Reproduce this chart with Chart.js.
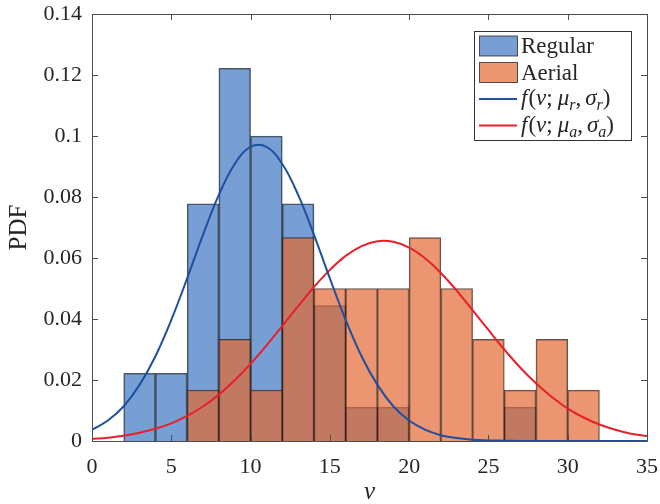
<!DOCTYPE html>
<html>
<head>
<meta charset="utf-8">
<script src="https://cdn.jsdelivr.net/npm/chart.js@4/dist/chart.umd.min.js"></script>
<style>
  html, body { margin: 0; padding: 0; background: #fff; }
</style>
</head>
<body>
<canvas id="graficoPdf" width="660" height="504"></canvas>
<script>
// datos del histograma (centros de clase, ancho 2)
var centrosClase = [3, 5, 7, 9, 11, 13, 15, 17, 19, 21, 23, 25, 27, 29, 31];
var pdfRegular = [0.0222, 0.0222, 0.0778, 0.1222, 0.1, 0.0778, 0.0444, 0.0111, 0.0111, 0, 0, 0, 0.0111, 0, 0];
var pdfAerial = [0, 0, 0.0167, 0.0333, 0.0167, 0.0667, 0.05, 0.05, 0.05, 0.0667, 0.05, 0.0333, 0.0167, 0.0333, 0.0167];

// curvas
var curvaX = [0, 1, 2, 3, 4, 5, 6, 7, 8, 9, 10, 11, 12, 13, 14, 15, 16, 17, 18, 19, 20, 21, 22, 23, 24, 25, 26, 27, 28, 29, 30, 31, 32, 33, 34, 35];
var curvaRegular = [0.0037, 0.0067, 0.0114, 0.0184, 0.0278, 0.0397, 0.0533, 0.0676, 0.0807, 0.0908, 0.0964, 0.0964, 0.0908, 0.0807, 0.0676, 0.0533, 0.0397, 0.0278, 0.0184, 0.0114, 0.0067, 0.0037, 0.0019, 0.001, 0.0004, 0.0002, 0.0001, 0, 0, 0, 0, 0, 0, 0, 0, 0];
var curvaAerial = [0.0007, 0.0011, 0.0017, 0.0027, 0.004, 0.0058, 0.0082, 0.0113, 0.0152, 0.0199, 0.0253, 0.0313, 0.0377, 0.0442, 0.0505, 0.0561, 0.0607, 0.0639, 0.0655, 0.0653, 0.0634, 0.0599, 0.0551, 0.0493, 0.0429, 0.0364, 0.03, 0.0241, 0.0189, 0.0144, 0.0106, 0.0077, 0.0054, 0.0037, 0.0024, 0.0016];

var ticksX = [0, 5, 10, 15, 20, 25, 30, 35];
var ticksY = [0, 0.02, 0.04, 0.06, 0.08, 0.1, 0.12, 0.14];

var fuente = '"Liberation Serif", "DejaVu Serif", serif';
var colorEje = '#262626';

// colores
var azulBarra = 'rgba(28, 95, 182, 0.6)';
var naranjaBarra = 'rgba(226, 105, 51, 0.7)';
var bordeBarra = 'rgba(30, 30, 30, 0.75)';
var azulLinea = '#1f4fa0';
var rojoLinea = '#e8202a';

function puntosBarra(valores) {
  return centrosClase.map(function (c, i) {
    return { x: c, y: valores[i] > 0 ? valores[i] : null };
  });
}
function puntosCurva(valores) {
  return curvaX.map(function (x, i) {
    return { x: x, y: valores[i] };
  });
}

// texto con subíndices para la leyenda
function textoRico(ctx, x, y, partes) {
  partes.forEach(function (p) {
    var size = p.sub ? 16 : 23;
    ctx.font = (p.it ? 'italic ' : '') + size + 'px ' + fuente;
    ctx.fillText(p.t, x, y + (p.sub ? 5 : 0));
    x += ctx.measureText(p.t).width + (p.extra || 0);
  });
}
function etiquetaCurva(s) {
  return [
    { t: 'f', it: true, extra: 1 }, { t: '(' }, { t: 'v', it: true }, { t: ';', extra: 5 },
    { t: 'μ', it: true }, { t: s, it: true, sub: true }, { t: ',', extra: 4 },
    { t: 'σ', it: true }, { t: s, it: true, sub: true }, { t: ')' }
  ];
}

// quitar el relleno que Chart.js añade por las etiquetas
function sinRelleno(s) {
  s.paddingLeft = 0; s.paddingRight = 0; s.paddingTop = 0; s.paddingBottom = 0;
}

// caja, marcas interiores y leyenda
var pluginEjes = {
  id: 'pluginEjes',
  afterDraw: function (chart) {
    var ctx = chart.ctx;
    var a = chart.chartArea;
    var sx = chart.scales.x;
    var sy = chart.scales.y;
    ctx.save();
    ctx.strokeStyle = '#4d4d4d';
    ctx.lineWidth = 1;
    ctx.beginPath();
    ctx.rect(Math.round(a.left) + 0.5, Math.round(a.top) + 0.5, Math.round(a.right - a.left), Math.round(a.bottom - a.top));
    var largo = 6;
    ticksX.forEach(function (v) {
      var px = Math.round(sx.getPixelForValue(v)) + 0.5;
      ctx.moveTo(px, a.bottom); ctx.lineTo(px, a.bottom - largo);
      ctx.moveTo(px, a.top); ctx.lineTo(px, a.top + largo);
    });
    ticksY.forEach(function (v) {
      var py = Math.round(sy.getPixelForValue(v)) + 0.5;
      ctx.moveTo(a.left, py); ctx.lineTo(a.left + largo, py);
      ctx.moveTo(a.right, py); ctx.lineTo(a.right - largo, py);
    });
    ctx.stroke();

    // leyenda
    var lx = 474.5, ly = 31.5, lw = 157, lh = 109;
    ctx.fillStyle = '#fff';
    ctx.fillRect(lx, ly, lw, lh);
    ctx.strokeStyle = '#333';
    ctx.strokeRect(lx, ly, lw, lh);
    var filas = [46, 72.5, 99, 125.5];
    ctx.fillStyle = azulBarra; ctx.fillRect(479.5, filas[0] - 10, 38, 20);
    ctx.strokeStyle = bordeBarra; ctx.strokeRect(479.5, filas[0] - 10, 38, 20);
    ctx.fillStyle = naranjaBarra; ctx.fillRect(479.5, filas[1] - 10, 38, 20);
    ctx.strokeRect(479.5, filas[1] - 10, 38, 20);
    ctx.lineWidth = 2;
    ctx.strokeStyle = azulLinea;
    ctx.beginPath(); ctx.moveTo(479, filas[2]); ctx.lineTo(517, filas[2]); ctx.stroke();
    ctx.strokeStyle = rojoLinea;
    ctx.beginPath(); ctx.moveTo(479, filas[3]); ctx.lineTo(517, filas[3]); ctx.stroke();
    ctx.fillStyle = colorEje;
    ctx.textBaseline = 'alphabetic';
    ctx.font = '23px ' + fuente;
    ctx.fillText('Regular', 521, filas[0] + 7);
    ctx.fillText('Aerial', 521, filas[1] + 7);
    textoRico(ctx, 521, filas[2] + 6, etiquetaCurva('r'));
    textoRico(ctx, 521, filas[3] + 6, etiquetaCurva('a'));
    ctx.restore();
  }
};

var ctx = document.getElementById('graficoPdf').getContext('2d');
var graficoPdf = new Chart(ctx, {
  type: 'bar',
  data: {
    datasets: [
      {
        label: 'Regular',
        data: puntosBarra(pdfRegular),
        backgroundColor: azulBarra,
        borderColor: bordeBarra,
        borderWidth: 1,
        order: 2
      },
      {
        label: 'Aerial',
        data: puntosBarra(pdfAerial),
        backgroundColor: naranjaBarra,
        borderColor: bordeBarra,
        borderWidth: 1,
        order: 1
      },
      {
        type: 'line',
        label: 'f(v; μr, σr)',
        data: puntosCurva(curvaRegular),
        borderColor: azulLinea,
        borderWidth: 2,
        pointRadius: 0,
        tension: 0.4,
        order: 0
      },
      {
        type: 'line',
        label: 'f(v; μa, σa)',
        data: puntosCurva(curvaAerial),
        borderColor: rojoLinea,
        borderWidth: 2,
        pointRadius: 0,
        tension: 0.4,
        order: 0
      }
    ]
  },
  options: {
    responsive: false,
    animation: false,
    devicePixelRatio: 1,
    layout: { padding: { left: 0, top: 14, right: 13, bottom: 0 } },
    datasets: {
      bar: { grouped: false, barPercentage: 1, categoryPercentage: 1 }
    },
    scales: {
      x: {
        type: 'linear',
        min: 0,
        max: 35,
        offset: false,
        grid: { display: false, drawTicks: false },
        border: { display: false },
        afterBuildTicks: function (s) { s.ticks = ticksX.map(function (v) { return { value: v }; }); },
        afterFit: function (s) { s.height = 63; sinRelleno(s); },
        ticks: {
          color: colorEje,
          font: { family: fuente, size: 22 },
          padding: 13,
          maxRotation: 0,
          callback: function (v) { return String(v); }
        },
        title: {
          display: true,
          text: 'v',
          color: colorEje,
          font: { family: fuente, size: 25, style: 'italic' },
          padding: { top: 0, bottom: -3 }
        }
      },
      y: {
        min: 0,
        max: 0.14,
        grid: { display: false, drawTicks: false },
        border: { display: false },
        afterBuildTicks: function (s) { s.ticks = ticksY.map(function (v) { return { value: v }; }); },
        afterFit: function (s) { s.width = 92; sinRelleno(s); },
        ticks: {
          color: colorEje,
          font: { family: fuente, size: 22 },
          padding: 10,
          callback: function (v) { return String(+v.toFixed(2)); }
        },
        title: {
          display: true,
          text: 'PDF',
          color: colorEje,
          font: { family: fuente, size: 25 },
          padding: { top: 4, bottom: 0 }
        }
      }
    },
    plugins: {
      legend: { display: false },
      tooltip: { enabled: false }
    }
  },
  plugins: [pluginEjes]
});
</script>
</body>
</html>
